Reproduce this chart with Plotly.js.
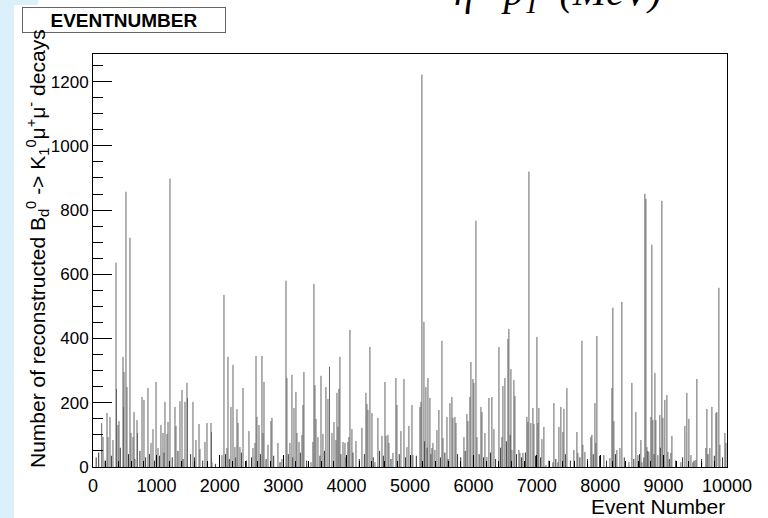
<!DOCTYPE html>
<html>
<head>
<meta charset="utf-8">
<script src="https://cdn.plot.ly/plotly-3.0.1.min.js"></script>
<style>html,body{margin:0;padding:0;background:#fff;}#chart{width:768px;height:518px;}</style>
</head>
<body>
<div id="chart"></div>
<script>
// Event numbers (bin positions) of visible spikes
var eventNumber = [
137,158,221,237,268,315,363,371,394,410,473,481,489,520,536,583,599,631,647,694,702,773,804,867,915,946,994,1025,1072,1104,1135,1167,1183,1214,
1293,1309,1372,1404,1451,1482,1490,1577,1624,1672,1687,1766,1798,1861,1869,1877,2034,2066,2113,2129,2176,2208,2239,2271,2287,2318,2366,2460,
2523,2555,2571,2586,2618,2665,2681,2697,2760,2807,2823,2917,2980,3044,3059,3107,3138,3170,3201,3217,3249,3296,3312,3327,3438,3469,3485,3501,3517,3548,3596,3627,3674,3706,3730,
3769,3801,3832,3848,3864,3879,3895,3943,3974,4021,4037,4053,4084,4148,4242,4305,4321,4337,4368,4400,4447,4494,4558,4605,4621,4652,4668,4731,4778,4794,4857,4905,4952,4983,
5031,5046,5157,5173,5188,5220,5251,5283,5314,5346,5362,5393,5425,5456,5504,5520,5583,5630,5661,5677,5709,5725,5851,5898,5914,5945,5961,5993,6008,6040,6056,6119,6135,6182,6213,6245,
6292,6324,6403,6450,6466,6497,6545,6560,6592,6608,6639,6655,6718,6734,6781,6844,6860,6876,6907,6939,6955,7002,7018,7033,7081,7112,7144,7254,7270,7333,7349,7380,7412,7428,7475,
7585,7633,7648,7712,7727,7759,7853,7869,7917,7932,7948,8058,8153,8185,8200,8216,8263,8311,8342,8453,8500,8563,8595,8642,8658,8705,8721,8737,8768,
8800,8815,8831,8863,8878,8910,8941,8973,8989,9020,9052,9068,9115,9131,9273,9336,9367,9399,9431,9462,9509,9525,9667,9683,9730,9762,9825,9840,9872,9888,9967,9983
];
// Number of reconstructed decays in each of those bins
var decays = [
137,94,168,93,156,84,636,243,131,143,343,187,296,857,249,714,106,93,171,146,106,218,209,246,75,118,265,59,131,106,203,103,140,898,
187,128,205,240,203,262,215,203,84,134,56,78,137,137,109,15,37,536,59,343,187,318,62,180,137,62,246,112,
59,75,346,156,131,346,106,265,69,143,153,75,25,580,277,75,287,184,234,106,78,100,193,296,15,78,570,255,150,93,284,103,249,212,312,
106,140,84,231,125,243,343,78,75,78,93,427,118,81,122,231,196,178,374,168,15,153,97,265,97,100,75,44,277,193,112,274,62,128,
193,37,187,203,1222,452,249,277,215,59,75,53,115,178,393,90,156,199,218,153,156,137,93,165,143,218,327,274,262,767,93,187,171,106,31,215,
218,118,374,93,252,277,399,430,305,53,271,221,53,44,44,156,140,920,137,184,134,405,137,184,87,125,6,15,199,15,125,187,109,181,246,
53,109,44,393,69,47,93,100,199,75,408,37,28,246,496,143,53,59,514,15,262,171,37,84,15,851,835,62,47,
156,692,146,293,146,37,162,829,153,209,224,47,44,97,15,128,231,150,37,15,22,274,59,181,59,187,168,171,558,69,106,75
];
// Low-count bins filling the dark band just above zero
var lowEventNumber = [
50,90,190,290,430,560,660,740,830,890,970,1050,1120,1250,1340,1420,1540,1600,1730,1930,2090,2150,2250,2340,2420,2500,2640,2730,2850,2950,
3080,3150,3270,3370,3580,3650,3910,3990,4100,4200,4280,4420,4520,4580,4700,4830,4930,5100,5230,5270,5330,5480,5550,5600,5750,5800,5870,
6090,6160,6270,6350,6430,6520,6580,6680,6760,6820,6980,7060,7190,7300,7450,7530,7680,7800,7890,7990,8100,8240,8380,8530,8620,8690,8750,
8850,8950,9000,9090,9190,9300,9480,9600,9700,9800,9930
];
var lowDecays = [
30,45,20,35,60,40,25,50,30,40,20,35,45,30,50,25,40,30,20,10,40,25,30,45,20,30,40,25,35,15,
40,30,45,20,35,50,40,30,45,25,40,30,50,35,25,40,30,35,80,60,40,30,45,25,40,30,50,
40,30,45,25,60,80,100,40,30,45,35,30,20,25,40,20,30,25,40,35,20,40,30,25,40,30,50,
40,60,30,25,20,30,20,25,40,35,30
];
var xTickValues = [0,1000,2000,3000,4000,5000,6000,7000,8000,9000,10000];
var yTickValues = [0,200,400,600,800,1000,1200];

var L = 93, T = 54, W = 634, H = 413;
function px(x){ return (x - L) / W; }
function py(y){ return (T + H - y) / H; }

// Each bin is drawn as a vertical histogram line from 0 up to its count
function spikes(xs, ys) {
  var lx = [], ly = [];
  for (var i = 0; i < xs.length; i++) {
    lx.push(xs[i], xs[i], null);
    ly.push(0, ys[i], null);
  }
  return {x: lx, y: ly};
}
var lowLines = spikes(lowEventNumber, lowDecays);
var mainLines = spikes(eventNumber, decays);

var traces = [
  {type: 'scatter', mode: 'lines', x: lowLines.x, y: lowLines.y,
   line: {color: '#333333', width: 1}, hoverinfo: 'skip'},
  {type: 'scatter', mode: 'lines', x: mainLines.x, y: mainLines.y,
   line: {color: '#666666', width: 1}, hoverinfo: 'skip'}
];

var axisFont = {family: 'Liberation Sans, Arial, sans-serif', size: 17, color: '#000'};
var titleFont = {family: 'Liberation Sans, Arial, sans-serif', size: 21, color: '#000'};
var nb = '\u00a0';

var layout = {
  width: 768, height: 518,
  margin: {l: L, r: 768 - L - W, t: T, b: 518 - T - H},
  paper_bgcolor: '#ffffff',
  plot_bgcolor: '#ffffff',
  showlegend: false,
  xaxis: {
    range: [0, 10000], tickvals: xTickValues, ticktext: xTickValues.map(String),
    ticks: 'inside', ticklen: 12, tickcolor: '#000', tickwidth: 1,
    minor: {dtick: 200, ticks: 'inside', ticklen: 6, tickcolor: '#000', showgrid: false},
    showline: true, mirror: true, linecolor: '#000', linewidth: 1,
    showgrid: false, zeroline: false, tickfont: {family: axisFont.family, size: 18, color: '#000'}, ticklabelstandoff: 2
  },
  yaxis: {
    range: [0, 1286], tickvals: yTickValues, ticktext: yTickValues.map(String),
    ticks: 'inside', ticklen: 19, tickcolor: '#000', tickwidth: 1,
    minor: {dtick: 50, ticks: 'inside', ticklen: 10, tickcolor: '#000', showgrid: false},
    showline: true, mirror: true, linecolor: '#000', linewidth: 1,
    showgrid: false, zeroline: false, tickfont: axisFont
  },
  shapes: [
    {type: 'rect', xref: 'paper', yref: 'paper', layer: 'below',
     x0: px(0), x1: px(14), y0: py(518), y1: py(0), fillcolor: '#dcf0fb', line: {width: 0}},
    {type: 'rect', xref: 'paper', yref: 'paper', layer: 'below',
     x0: px(0), x1: px(38), y0: py(5), y1: py(0), fillcolor: '#dcf0fb', line: {width: 0}}
  ],
  annotations: [
    {xref: 'paper', yref: 'paper', x: px(124), y: py(20), xanchor: 'center', yanchor: 'middle',
     text: '<b>EVENTNUMBER</b>', showarrow: false, width: 200, height: 22,
     bgcolor: '#ffffff', bordercolor: '#666666', borderwidth: 1, borderpad: 1,
     font: {family: 'Liberation Sans, Arial, sans-serif', size: 19, color: '#000'}},
    {xref: 'paper', yref: 'paper', x: px(452), y: py(-6), xanchor: 'left', yanchor: 'middle',
     text: 'η' + nb + nb + nb + 'p<sub>T</sub>' + nb + nb + '(MeV)', showarrow: false,
     font: {family: 'Liberation Serif, Times New Roman, serif', size: 40, style: 'italic', color: '#000'}},
    {xref: 'paper', yref: 'paper', x: px(37), y: py(249), xanchor: 'center', yanchor: 'middle',
     textangle: -90, showarrow: false,
     text: 'Number of reconstructed B<sub>d</sub><sup>0</sup> -&gt; K<sub>1</sub><sup>0</sup>μ<sup>+</sup>μ<sup>-</sup> decays',
     font: titleFont},
    {xref: 'paper', yref: 'paper', x: 1, y: py(506), xanchor: 'right', yanchor: 'middle',
     text: 'Event Number', showarrow: false, font: titleFont}
  ]
};

Plotly.newPlot('chart', traces, layout, {displayModeBar: false, staticPlot: true});
</script>
</body>
</html>
